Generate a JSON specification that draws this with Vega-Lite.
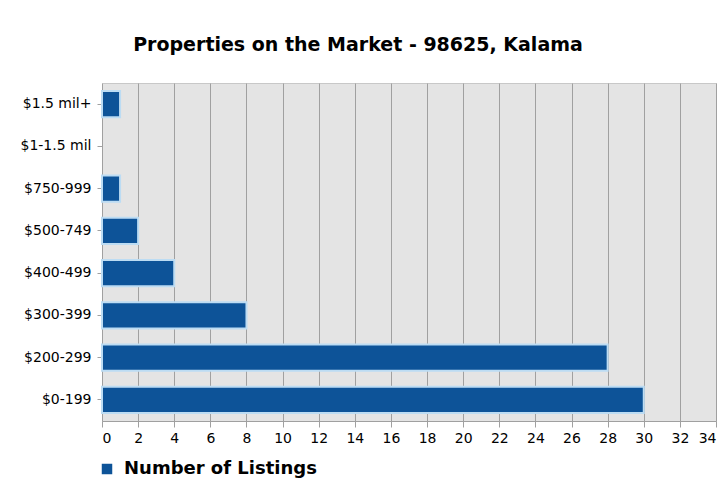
{
  "$schema": "https://vega.github.io/schema/vega-lite/v6.json",
  "width": 614,
  "height": 338,
  "autosize": {"type": "none"},
  "padding": {"left": 102, "top": 83, "right": 12, "bottom": 68},
  "background": "white",
  "title": {
    "text": "Properties on the Market - 98625, Kalama",
    "font": "DejaVu Sans",
    "fontSize": 19,
    "fontWeight": "bold",
    "color": "#000000",
    "anchor": "middle",
    "dx": -51,
    "offset": 28
  },
  "data": {
    "values": [
      {"range": "$1.5 mil+", "listings": 1},
      {"range": "$1-1.5 mil", "listings": 0},
      {"range": "$750-999", "listings": 1},
      {"range": "$500-749", "listings": 2},
      {"range": "$400-499", "listings": 4},
      {"range": "$300-399", "listings": 8},
      {"range": "$200-299", "listings": 28},
      {"range": "$0-199", "listings": 30}
    ]
  },
  "mark": {"type": "bar", "stroke": "#bcdcf3", "strokeWidth": 2},
  "encoding": {
    "y": {
      "field": "range",
      "type": "nominal",
      "sort": ["$1.5 mil+", "$1-1.5 mil", "$750-999", "$500-749", "$400-499", "$300-399", "$200-299", "$0-199"],
      "scale": {"paddingInner": 0.38, "paddingOuter": 0.19},
      "axis": {
        "title": null,
        "labelFont": "DejaVu Sans",
        "labelFontSize": 14,
        "labelColor": "#000000",
        "labelPadding": 6,
        "tickColor": "#a0a0a0",
        "tickSize": 5,
        "domain": false,
        "grid": false
      }
    },
    "x": {
      "field": "listings",
      "type": "quantitative",
      "scale": {"domain": [0, 34], "nice": false},
      "axis": {
        "title": null,
        "values": [0,2,4,6,8,10,12,14,16,18,20,22,24,26,28,30,32,34],
        "labelFont": "DejaVu Sans",
        "labelFontSize": 14,
        "labelColor": "#000000",
        "labelPadding": 4,
        "tickColor": "#a0a0a0",
        "tickSize": 6,
        "domainColor": "#a0a0a0",
        "gridColor": "#a0a0a0",
        "gridWidth": 1,
        "grid": true
      }
    },
    "strokeOpacity": {
      "condition": {"test": "datum.listings > 0", "value": 1},
      "value": 0
    },
    "color": {
      "datum": "Number of Listings",
      "type": "nominal",
      "scale": {"range": ["#0d5398"]},
      "legend": {
        "title": null,
        "orient": "none",
        "legendX": -4,
        "legendY": 377,
        "symbolType": "square",
        "symbolSize": 110,
        "symbolStrokeWidth": 0,
        "labelFont": "DejaVu Sans",
        "labelFontSize": 18,
        "labelFontWeight": "bold",
        "labelColor": "#000000",
        "labelOffset": 8,
        "labelLimit": 400
      }
    }
  },
  "config": {
    "view": {"fill": "#e4e4e4", "stroke": "#c8c8c8"}
  }
}
